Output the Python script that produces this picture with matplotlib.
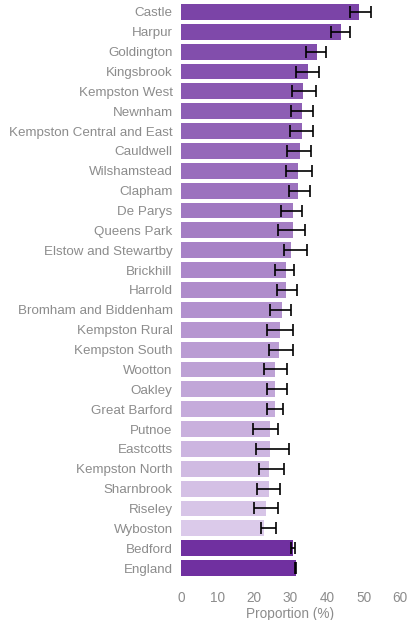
import matplotlib.pyplot as plt
import matplotlib.colors as mcolors
import numpy as np

# wards, top to bottom
wards = ["Castle", "Harpur", "Goldington", "Kingsbrook", "Kempston West", "Newnham",
         "Kempston Central and East", "Cauldwell", "Wilshamstead", "Clapham", "De Parys",
         "Queens Park", "Elstow and Stewartby", "Brickhill", "Harrold",
         "Bromham and Biddenham", "Kempston Rural", "Kempston South", "Wootton", "Oakley",
         "Great Barford", "Putnoe", "Eastcotts", "Kempston North", "Sharnbrook", "Riseley",
         "Wyboston"]
ward_values = [48.8, 43.8, 37.3, 34.8, 33.4, 33.2, 33.2, 32.6, 32.1, 32.1, 30.7, 30.7, 30.1,
               28.8, 28.8, 27.7, 27.1, 26.8, 25.8, 25.8, 25.8, 24.4, 24.4, 24.1, 24.1, 23.3,
               22.7]
ward_lower = [46.3, 41.1, 34.3, 31.4, 30.4, 30.2, 30.0, 29.1, 28.8, 29.5, 27.4, 26.5, 28.1,
              25.8, 26.2, 24.5, 23.5, 24.0, 22.7, 23.5, 23.5, 19.6, 20.6, 21.3, 20.8, 20.0,
              22.0]
ward_upper = [52.0, 46.4, 39.8, 37.8, 37.1, 36.3, 36.2, 35.7, 35.9, 35.3, 33.2, 34.0, 34.6,
              31.0, 31.8, 30.1, 30.6, 30.8, 29.0, 29.0, 27.9, 26.5, 29.6, 28.3, 27.0, 26.6,
              26.1]

# comparators
areas = ["Bedford", "England"]
area_values = [30.7, 31.5]
area_lower = [30.2, 31.1]
area_upper = [31.3, 31.6]

labels = wards + areas
values = np.array(ward_values + area_values)
lower = np.array(ward_lower + area_lower)
upper = np.array(ward_upper + area_upper)

# purple gradient for wards, solid dark purple for comparators
c_dark = np.array(mcolors.to_rgb("#7b44a7"))
c_light = np.array(mcolors.to_rgb("#dbcaea"))
colors = [tuple(c_dark + (c_light - c_dark) * t) for t in np.linspace(0, 1, len(wards))]
colors += ["#7030a0"] * len(areas)

plt.rcParams['font.family'] = ['Liberation Sans', 'DejaVu Sans']

fig = plt.figure(figsize=(4.1, 6.2), dpi=100)
ax = fig.add_axes([181 / 410, 42 / 620, 219 / 410, 576 / 620])

y = np.arange(len(labels))
ax.barh(y, values, height=0.8, color=colors)
ax.errorbar(values, y, xerr=[values - lower, upper - values], fmt="none",
            ecolor="black", elinewidth=1.2, capsize=4, capthick=1.2)

ax.set_ylim(len(labels) - 0.5, -0.5)
ax.set_xlim(0, 60)
ax.set_xticks(range(0, 61, 10))
ax.set_yticks(y)
ax.set_yticklabels(labels)
ax.tick_params(length=0, colors="#8c8c8c", labelsize=9.6, pad=6)
ax.tick_params(axis="x", labelsize=9.8, pad=9)
for s in ax.spines.values():
    s.set_visible(False)
ax.set_xlabel("Proportion (%)", color="#8c8c8c", fontsize=9.8, labelpad=2)

fig.savefig("out.png")
